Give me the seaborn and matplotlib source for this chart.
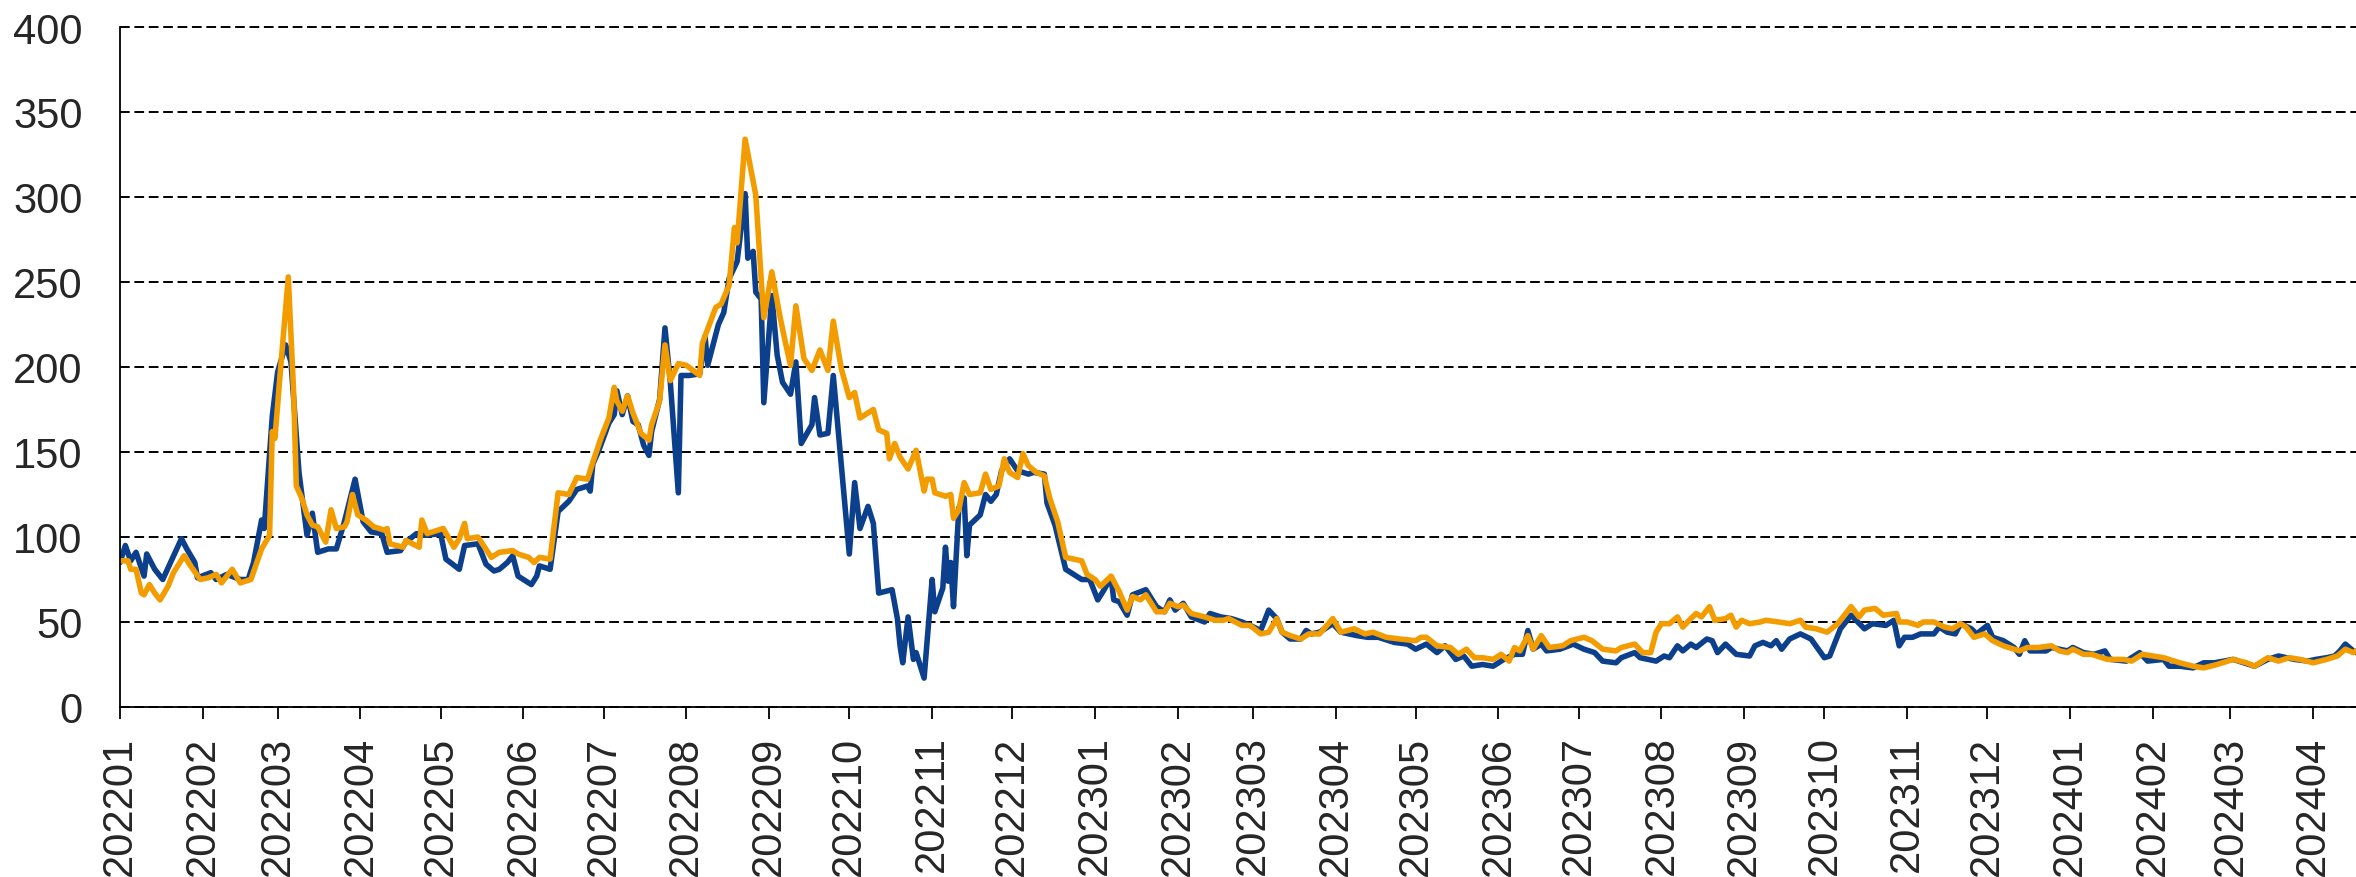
import pandas as pd
import matplotlib
matplotlib.use('Agg')
import matplotlib.pyplot as plt
import matplotlib.dates as mdates
import seaborn as sns

# day offset from 2022-01-01, value
start_date = '2022-01-01'
end_day = 837

blue_points = [
    (0, 85), (2, 95), (4, 86), (6, 91), (9, 77), (10, 90), (13, 81), (16, 75), (23, 99), (25, 93),
    (28, 85), (29, 76), (34, 79), (36, 75), (40, 78), (45, 75), (48, 75), (50, 85), (53, 110), (54, 105),
    (57, 171), (59, 197), (62, 213), (64, 203), (67, 138), (69, 113), (70, 101), (72, 114), (74, 91), (78, 93),
    (81, 93), (84, 109), (88, 134), (91, 109), (94, 103), (98, 102), (100, 91), (105, 92), (107, 97), (111, 102),
    (114, 101), (120, 102), (122, 87), (127, 81), (129, 95), (134, 96), (137, 84), (140, 80), (142, 81), (145, 85),
    (147, 89), (149, 77), (154, 72), (156, 77), (157, 83), (161, 81), (164, 115), (168, 121), (171, 128), (175, 130),
    (176, 127), (177, 143), (179, 150), (183, 167), (185, 172), (186, 186), (188, 172), (190, 183), (192, 168), (194, 166),
    (196, 154), (198, 148), (199, 162), (202, 181), (204, 223), (206, 191), (209, 126), (210, 195), (213, 195), (217, 196),
    (219, 218), (220, 201), (224, 225), (226, 232), (228, 252), (231, 262), (232, 275), (234, 302), (235, 264), (237, 268),
    (238, 244), (240, 240), (241, 179), (244, 242), (246, 207), (248, 191), (251, 184), (253, 203), (255, 155), (259, 166),
    (260, 182), (262, 160), (265, 161), (267, 195), (273, 90), (275, 132), (277, 105), (280, 118), (282, 108), (284, 67),
    (289, 69), (291, 52), (292, 36), (293, 26), (295, 53), (297, 28), (298, 32), (301, 17), (304, 75), (305, 56),
    (308, 70), (309, 94), (310, 74), (311, 85), (312, 59), (314, 117), (316, 123), (317, 89), (318, 107), (322, 113),
    (324, 125), (326, 121), (328, 125), (330, 139), (333, 146), (336, 139), (340, 137), (342, 138), (346, 137), (347, 120),
    (350, 107), (354, 81), (360, 75), (363, 75), (366, 63), (368, 68), (371, 76), (372, 63), (374, 62), (377, 54),
    (379, 66), (384, 69), (388, 59), (391, 56), (393, 63), (395, 57), (398, 61), (401, 53), (406, 50), (408, 55),
    (412, 53), (416, 52), (420, 50), (423, 48), (427, 45), (430, 57), (433, 52), (435, 44), (438, 40), (442, 40),
    (444, 45), (446, 43), (449, 44), (454, 49), (457, 44), (463, 42), (467, 41), (471, 41), (477, 38), (482, 37),
    (485, 34), (489, 37), (493, 32), (496, 36), (500, 28), (503, 30), (506, 24), (510, 25), (514, 24), (518, 28),
    (522, 31), (525, 31), (527, 45), (529, 34), (532, 37), (534, 33), (539, 34), (544, 37), (548, 34), (552, 32),
    (555, 27), (560, 26), (562, 29), (567, 32), (569, 29), (575, 27), (578, 30), (580, 29), (583, 36), (585, 33),
    (588, 37), (590, 35), (594, 40), (596, 39), (598, 32), (601, 37), (605, 31), (610, 30), (612, 36), (615, 38),
    (618, 36), (620, 39), (622, 34), (625, 40), (629, 43), (633, 40), (638, 29), (640, 30), (644, 46), (648, 54),
    (653, 46), (656, 49), (661, 48), (664, 51), (666, 36), (668, 41), (671, 41), (674, 43), (679, 43), (681, 47),
    (684, 44), (687, 43), (689, 49), (693, 46), (695, 43), (699, 48), (701, 41), (705, 39), (709, 35), (711, 31),
    (713, 39), (715, 33), (721, 33), (723, 35), (729, 33), (731, 35), (735, 32), (739, 31), (743, 33), (745, 28),
    (751, 27), (756, 32), (759, 27), (765, 28), (767, 24), (771, 24), (776, 23), (780, 26), (784, 26), (791, 28),
    (799, 24), (804, 28), (808, 30), (814, 28), (819, 27), (822, 28), (826, 29), (829, 30), (831, 33), (833, 37),
    (836, 33), (837, 32),
]

orange_points = [
    (0, 86), (3, 86), (4, 81), (6, 81), (8, 67), (9, 66), (11, 72), (13, 67), (15, 63), (18, 71),
    (20, 79), (24, 89), (26, 84), (30, 75), (33, 76), (36, 78), (38, 73), (42, 81), (45, 73), (49, 75),
    (53, 93), (56, 101), (57, 162), (58, 158), (60, 197), (63, 253), (65, 185), (66, 130), (68, 123), (70, 113),
    (72, 107), (74, 106), (77, 97), (79, 116), (81, 105), (84, 106), (85, 109), (87, 125), (89, 113), (92, 110),
    (95, 106), (99, 104), (100, 105), (101, 96), (106, 94), (107, 98), (112, 94), (113, 110), (115, 102), (121, 105),
    (125, 94), (127, 99), (129, 108), (130, 99), (134, 100), (139, 88), (142, 91), (147, 92), (149, 90), (153, 88),
    (155, 85), (157, 88), (161, 87), (164, 126), (168, 125), (171, 135), (175, 134), (177, 144), (180, 158), (183, 170),
    (185, 188), (186, 180), (188, 174), (190, 183), (192, 173), (195, 161), (198, 157), (199, 166), (202, 180), (204, 213),
    (206, 192), (209, 202), (212, 201), (217, 195), (218, 214), (223, 235), (225, 237), (228, 248), (230, 282), (231, 273),
    (234, 334), (238, 301), (240, 252), (241, 229), (244, 256), (247, 230), (249, 215), (251, 201), (253, 236), (256, 205),
    (259, 198), (262, 210), (265, 198), (267, 227), (270, 199), (273, 182), (275, 185), (277, 170), (282, 175), (284, 163),
    (287, 161), (288, 146), (290, 155), (292, 147), (295, 140), (298, 151), (301, 127), (302, 134), (304, 134), (305, 126),
    (309, 124), (311, 125), (312, 111), (314, 116), (316, 132), (318, 125), (322, 126), (324, 137), (326, 128), (329, 130),
    (331, 146), (333, 138), (336, 135), (338, 149), (340, 142), (343, 138), (346, 136), (348, 123), (351, 109), (354, 88),
    (360, 86), (362, 78), (365, 75), (367, 71), (371, 77), (374, 68), (377, 57), (379, 65), (382, 63), (384, 66),
    (388, 56), (391, 56), (393, 61), (396, 59), (398, 60), (401, 55), (406, 53), (410, 51), (413, 51), (415, 52),
    (420, 48), (423, 48), (427, 43), (430, 44), (433, 52), (435, 44), (438, 42), (442, 40), (445, 43), (449, 43),
    (454, 52), (457, 44), (462, 46), (466, 43), (469, 44), (474, 41), (479, 40), (485, 39), (487, 41), (489, 41),
    (493, 36), (498, 35), (501, 31), (504, 34), (507, 29), (510, 29), (514, 28), (517, 31), (520, 27), (522, 35),
    (524, 33), (527, 42), (529, 34), (532, 42), (535, 35), (540, 36), (543, 39), (548, 41), (551, 39), (555, 34),
    (560, 33), (562, 35), (567, 37), (570, 32), (573, 32), (575, 44), (577, 49), (580, 49), (583, 53), (585, 47),
    (588, 52), (590, 55), (592, 53), (595, 59), (597, 51), (601, 52), (603, 54), (605, 47), (607, 51), (610, 49),
    (614, 50), (616, 51), (621, 50), (625, 49), (629, 51), (631, 47), (635, 46), (639, 44), (643, 49), (648, 59),
    (651, 53), (653, 57), (657, 58), (660, 54), (665, 55), (666, 50), (669, 50), (673, 48), (675, 50), (679, 50),
    (683, 47), (686, 46), (689, 49), (691, 47), (694, 41), (698, 43), (701, 39), (705, 36), (709, 34), (711, 33),
    (714, 35), (718, 35), (723, 36), (726, 33), (729, 32), (731, 34), (735, 31), (738, 31), (744, 28), (750, 28),
    (753, 27), (757, 31), (761, 30), (765, 29), (771, 26), (776, 24), (780, 23), (785, 25), (791, 28), (796, 26),
    (799, 24), (804, 29), (808, 27), (812, 29), (816, 28), (821, 26), (826, 28), (830, 30), (833, 34), (836, 32),
    (837, 33),
]

y_ticks = [0, 50, 100, 150, 200, 250, 300, 350, 400]
line_colors = {'blue': '#0d408c', 'orange': '#f39c00'}


def to_frame(points, name):
    df = pd.DataFrame(points, columns=['day', 'value'])
    df['date'] = pd.Timestamp(start_date) + pd.to_timedelta(df['day'], unit='D')
    df['series'] = name
    return df


data = pd.concat([to_frame(blue_points, 'blue'), to_frame(orange_points, 'orange')], ignore_index=True)

sns.set_style('white')
plt.rcParams['font.family'] = ['Liberation Sans', 'DejaVu Sans']

fig = plt.figure(figsize=(23.56, 8.78), dpi=100)
ax = fig.add_axes([120 / 2356, 1 - 708 / 878, 1 - 120 / 2356, 680 / 878])

sns.lineplot(data=data, x='date', y='value', hue='series', hue_order=['blue', 'orange'],
             palette=line_colors, linewidth=4.0, estimator=None, legend=False, ax=ax)

ax.set_ylim(0, 400)
ax.set_yticks(y_ticks)
ax.set_xlim(pd.Timestamp(start_date), pd.Timestamp(start_date) + pd.Timedelta(days=end_day))
ax.xaxis.set_major_locator(mdates.MonthLocator())
ax.xaxis.set_major_formatter(mdates.DateFormatter('%Y%m'))

# dashed black gridlines
ax.yaxis.grid(True, color='black', linestyle=(0, (5, 2.4)), linewidth=1.4)
ax.xaxis.grid(False)
ax.set_axisbelow(True)
for gl in ax.get_ygridlines():
    gl.set_clip_on(False)

for side in ['top', 'right']:
    ax.spines[side].set_visible(False)
for side in ['left', 'bottom']:
    ax.spines[side].set_color('black')
    ax.spines[side].set_linewidth(1.3)

ax.tick_params(axis='x', which='major', direction='out', length=8.5, width=1.3,
               color='black', labelsize=30, rotation=90, pad=12, bottom=True)
ax.tick_params(axis='y', length=0, labelsize=30, pad=27)
ax.set_xlabel('')
ax.set_ylabel('')

fig.savefig('out.png', dpi=100)
